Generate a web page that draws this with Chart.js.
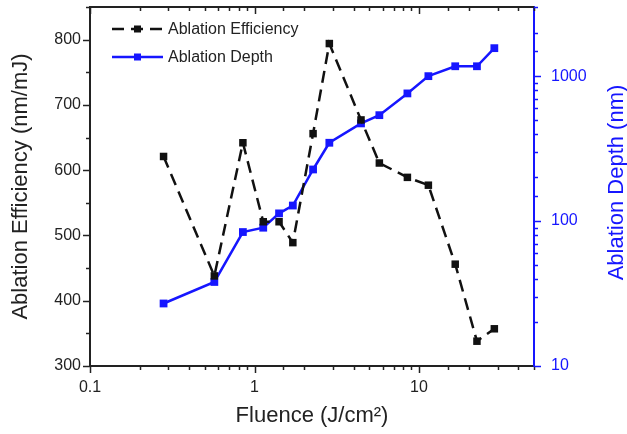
<!DOCTYPE html>
<html>
<head>
<meta charset="utf-8">
<script src="https://cdn.jsdelivr.net/npm/chart.js@4/dist/chart.umd.min.js"></script>
<style>
  html, body { margin: 0; padding: 0; background: #fff; }
  #wrap { width: 627px; height: 434px; position: relative; }
</style>
</head>
<body>
<div id="wrap"><canvas id="chart"></canvas></div>
<script>
// values
const fluence = [0.28, 0.57, 0.85, 1.13, 1.41, 1.71, 2.27, 2.85, 4.44, 5.74, 8.5, 11.4, 16.6, 22.5, 28.7];
const efficiency = [621, 438, 642, 521, 521, 489, 656, 794, 677, 611, 589, 577, 456, 338, 357];
const depth = [27, 38, 84, 90, 113, 128, 227, 347, 472, 538, 760, 1000, 1170, 1170, 1560];

const BLUE = '#1616ff';
const DARK = '#222222';
const FONT = "'Liberation Sans', Arial, sans-serif";

const isDecade = v => Math.abs(Math.log10(v) - Math.round(Math.log10(v))) < 1e-6;
const noPad = s => { s.paddingTop = 0; s.paddingBottom = 0; s.paddingLeft = 0; s.paddingRight = 0; };

// small/large tick marks on the frame, taken from each scale's own ticks
const tickMarks = {
  id: 'tickMarks',
  afterDraw(chart) {
    const { ctx, chartArea: a, scales } = chart;
    ctx.save();
    ctx.lineWidth = 1.5;
    const seg = (x1, y1, x2, y2) => { ctx.beginPath(); ctx.moveTo(x1, y1); ctx.lineTo(x2, y2); ctx.stroke(); };

    ctx.strokeStyle = DARK;
    scales.x.ticks.forEach(t => {
      const px = Math.round(scales.x.getPixelForValue(t.value)) + 0.5;
      const len = isDecade(t.value) ? 7 : 4;
      seg(px, a.bottom, px, a.bottom + len);
      seg(px, a.top, px, a.top + len);
    });
    scales.y.ticks.forEach(t => {
      const py = Math.round(scales.y.getPixelForValue(t.value)) + 0.5;
      const len = t.value % 100 === 0 ? 7 : 4;
      seg(a.left - len, py, a.left, py);
    });
    ctx.strokeStyle = BLUE;
    scales.y1.ticks.forEach(t => {
      const py = Math.round(scales.y1.getPixelForValue(t.value)) + 0.5;
      const len = isDecade(t.value) ? 7 : 4;
      seg(a.right, py, a.right + len, py);
    });
    // top frame line
    ctx.strokeStyle = DARK;
    ctx.lineWidth = 2;
    seg(a.left, a.top, a.right, a.top);

    // right axis title, read bottom to top
    ctx.fillStyle = BLUE;
    ctx.font = '22px ' + FONT;
    ctx.textAlign = 'center';
    ctx.textBaseline = 'middle';
    ctx.translate(chart.width - 10, (a.top + a.bottom) / 2 - 4);
    ctx.rotate(-Math.PI / 2);
    ctx.fillText('Ablation Depth (nm)', 0, 0);
    ctx.restore();
  }
};

// legend with line sample + marker, inside the plot area
const lineLegend = {
  id: 'lineLegend',
  afterDraw(chart) {
    const { ctx, chartArea: a } = chart;
    ctx.save();
    chart.data.datasets.forEach((ds, i) => {
      const x0 = a.left + 22, x1 = x0 + 51, y = a.top + 22 + i * 28;
      ctx.strokeStyle = ds.borderColor;
      ctx.lineWidth = ds.borderWidth;
      ctx.setLineDash(ds.borderDash || []);
      ctx.beginPath(); ctx.moveTo(x0, y); ctx.lineTo(x1, y); ctx.stroke();
      ctx.setLineDash([]);
      ctx.fillStyle = ds.pointBackgroundColor;
      const s = 7;
      ctx.fillRect((x0 + x1) / 2 - s / 2, y - s / 2, s, s);
      ctx.fillStyle = DARK;
      ctx.font = '16px ' + FONT;
      ctx.textBaseline = 'middle';
      ctx.fillText(ds.label, x1 + 5, y + 1);
    });
    ctx.restore();
  }
};

new Chart(document.getElementById('chart'), {
  type: 'line',
  data: {
    datasets: [
      {
        label: 'Ablation Efficiency',
        data: fluence.map((f, i) => ({ x: f, y: efficiency[i] })),
        yAxisID: 'y',
        borderColor: '#111111',
        borderWidth: 2.5,
        borderDash: [12, 7],
        pointStyle: 'rect',
        pointRadius: 5.3,
        pointBackgroundColor: '#111111',
        pointBorderWidth: 0,
        tension: 0
      },
      {
        label: 'Ablation Depth',
        data: fluence.map((f, i) => ({ x: f, y: depth[i] })),
        yAxisID: 'y1',
        borderColor: BLUE,
        borderWidth: 2.5,
        pointStyle: 'rect',
        pointRadius: 5.5,
        pointBackgroundColor: BLUE,
        pointBorderWidth: 0,
        tension: 0
      }
    ]
  },
  options: {
    responsive: true,
    maintainAspectRatio: false,
    animation: false,
    layout: { padding: { top: 7, left: 0, right: 0, bottom: 0 } },
    plugins: {
      legend: { display: false },
      tooltip: { enabled: false }
    },
    scales: {
      x: {
        type: 'logarithmic',
        position: 'bottom',
        min: 0.1,
        max: 50,
        afterFit: s => { s.height = 68; noPad(s); },
        grid: { drawOnChartArea: false, drawTicks: false },
        border: { display: true, color: DARK, width: 2 },
        ticks: {
          autoSkip: false,
          maxRotation: 0,
          padding: 12,
          color: DARK,
          font: { family: FONT, size: 16 },
          callback: v => isDecade(v) ? String(Number(v.toPrecision(1))) : ''
        },
        title: {
          display: true,
          text: 'Fluence (J/cm\u00B2)',
          color: DARK,
          font: { family: FONT, size: 22 },
          padding: { top: 0, bottom: 5 }
        }
      },
      y: {
        type: 'linear',
        position: 'left',
        min: 300,
        max: 850,
        afterFit: s => { s.width = 90; noPad(s); },
        grid: { drawOnChartArea: false, drawTicks: false },
        border: { display: true, color: DARK, width: 2 },
        ticks: {
          stepSize: 50,
          autoSkip: false,
          padding: 9,
          color: DARK,
          font: { family: FONT, size: 16 },
          callback: v => v % 100 === 0 ? String(v) : ''
        },
        title: {
          display: true,
          text: 'Ablation Efficiency (nm/mJ)',
          color: DARK,
          font: { family: FONT, size: 22 },
          padding: { top: 8, bottom: 0 }
        }
      },
      y1: {
        type: 'logarithmic',
        position: 'right',
        min: 10,
        max: 3000,
        afterFit: s => { s.width = 93; noPad(s); },
        grid: { drawOnChartArea: false, drawTicks: false },
        border: { display: true, color: BLUE, width: 2 },
        ticks: {
          autoSkip: false,
          padding: 17,
          color: BLUE,
          font: { family: FONT, size: 16 },
          callback: v => isDecade(v) ? String(Math.round(v)) : ''
        },
        title: { display: false }
      }
    }
  },
  plugins: [tickMarks, lineLegend]
});
</script>
</body>
</html>
